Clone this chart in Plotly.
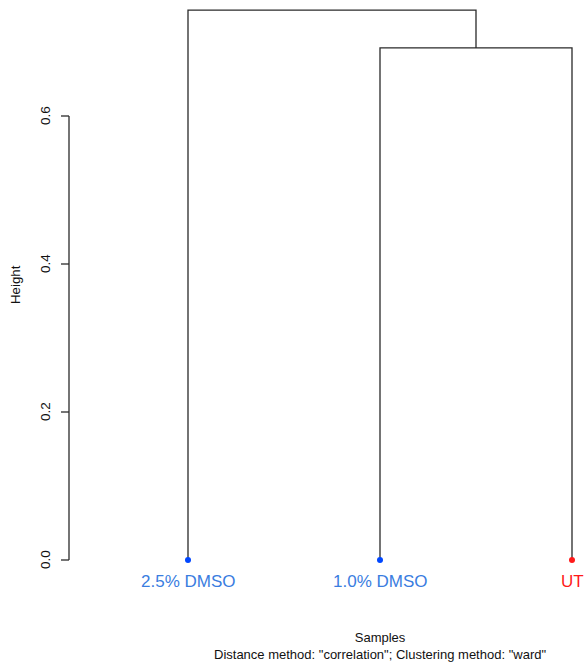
import plotly.graph_objects as go

# ---- data ----
leaf_labels = ["2.5% DMSO", "1.0% DMSO", "UT"]
leaf_label_colors = ["#3a7ddf", "#3a7ddf", "#ff1a1a"]
leaf_dot_colors = ["#0047ff", "#0047ff", "#ff1a1a"]
# merges: (left member, right member, height); negative = leaf index (1-based), positive = merge index
merges = [(-2, -3, 0.692), (-1, 1, 0.743)]
y_ticks = [0.0, 0.2, 0.4, 0.6]
y_tick_labels = ["0.0", "0.2", "0.4", "0.6"]

LINE = "#2a2a2a"
FONT = "Liberation Sans, Arial, sans-serif"

W, H = 585, 664
px_per_x = 192.0
px_per_y = 740.0
leaf1_px = 188.0
zero_px = 560.0

fig = go.Figure()

# compute dendrogram segments
leaf_x = {i + 1: i + 1 for i in range(len(leaf_labels))}
node_pos = {}
def pos(m):
    if m < 0:
        return leaf_x[-m], 0.0
    return node_pos[m]

xs, ys = [], []
for k, (a, b, h) in enumerate(merges, start=1):
    xa, ya = pos(a)
    xb, yb = pos(b)
    xs += [xa, xa, xb, xb, None]
    ys += [ya, h, h, yb, None]
    node_pos[k] = ((xa + xb) / 2, h)

fig.add_trace(go.Scatter(x=xs, y=ys, mode="lines",
                         line=dict(color=LINE, width=1.3),
                         hoverinfo="skip", showlegend=False))

# leaf dots
fig.add_trace(go.Scatter(x=[leaf_x[i + 1] for i in range(len(leaf_labels))],
                         y=[0] * len(leaf_labels), mode="markers",
                         marker=dict(color=leaf_dot_colors, size=6),
                         hoverinfo="skip", showlegend=False))

# leaf labels
for i, lab in enumerate(leaf_labels):
    fig.add_annotation(x=leaf_x[i + 1], y=0, yshift=-21, text=lab, showarrow=False,
                       font=dict(family=FONT, size=17, color=leaf_label_colors[i]),
                       xanchor="center", yanchor="middle")

# custom R-style y axis
ax_x = 1 - (leaf1_px - 69) / px_per_x
tick_len = 8 / px_per_x
fig.add_shape(type="line", x0=ax_x, x1=ax_x, y0=y_ticks[0], y1=y_ticks[-1],
              line=dict(color=LINE, width=1.3))
for t, tl in zip(y_ticks, y_tick_labels):
    fig.add_shape(type="line", x0=ax_x, x1=ax_x - tick_len, y0=t, y1=t,
                  line=dict(color=LINE, width=1.3))
    fig.add_annotation(x=ax_x, xshift=-24, y=t, text=tl, showarrow=False, textangle=-90,
                       font=dict(family=FONT, size=13.5, color="#111"),
                       xanchor="center", yanchor="middle")

fig.add_annotation(xref="paper", yref="paper", x=15 / W, y=1 - 285 / H, text="Height",
                   showarrow=False, textangle=-90,
                   font=dict(family=FONT, size=13.3, color="#111"),
                   xanchor="center", yanchor="middle")
fig.add_annotation(xref="paper", yref="paper", x=380 / W, y=1 - 646 / H,
                   text="Samples<br>Distance method: \"correlation\"; Clustering method: \"ward\"",
                   showarrow=False, align="center",
                   font=dict(family=FONT, size=13, color="#111"),
                   xanchor="center", yanchor="middle")

fig.update_layout(
    width=W, height=H,
    margin=dict(l=0, r=0, t=0, b=0),
    paper_bgcolor="white", plot_bgcolor="white",
    xaxis=dict(range=[1 - leaf1_px / px_per_x, 1 + (W - leaf1_px) / px_per_x],
               visible=False, fixedrange=True),
    yaxis=dict(range=[-(H - zero_px) / px_per_y, zero_px / px_per_y],
               visible=False, fixedrange=True),
)

fig.write_html("out.html", config={"displayModeBar": False},
               post_script="document.body.style.margin='0';document.body.style.overflow='hidden';")
